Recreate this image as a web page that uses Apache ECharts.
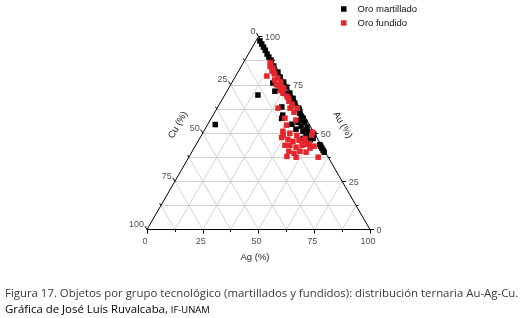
<!DOCTYPE html>
<html>
<head>
<meta charset="utf-8">
<script src="https://cdn.jsdelivr.net/npm/echarts@6/dist/echarts.min.js"></script>
<style>html,body{margin:0;padding:0;background:#fff;}#c{width:525px;height:318px;}</style>
</head>
<body>
<div id="c"></div>
<script>
// ---- data: [Au %, Ag %, Cu %] ----
const oroMartillado = [
  [97.7,1.8,0.5],[96.1,3.4,0.5],[94.5,5.0,0.5],[92.9,6.6,0.5],[90.9,8.4,0.7],[89.3,10.0,0.7],
  [87.8,11.7,0.5],[84.7,14.5,0.8],[81.6,17.9,0.5],[79.0,20.2,0.8],[76.4,23.1,0.5],[73.8,25.7,0.5],
  [70.7,28.7,0.6],[68.0,31.5,0.5],[65.5,33.5,1.0],[62.9,36.6,0.5],
  [75.9,18.5,5.6],[72.3,24.8,2.9],[71.7,21.5,6.8],[63.5,28.7,7.8],[59.3,31.2,9.5],
  [73.2,23.0,3.8],[70.5,26.6,2.9],[68.5,29.1,2.4],[65.4,32.9,1.7],[61.9,37.3,0.8],
  [69.7,14.9,15.4],[54.4,3.4,42.2],
  [60.3,38.4,1.3],[57.7,41.1,1.2],[55.6,39.9,4.5],[55.6,43.0,1.4],[53.6,42.3,4.1],[53.1,45.2,1.7],
  [50.9,44.5,4.6],[50.5,47.4,2.1],[52.0,40.8,7.2],[54.6,37.7,7.7],[47.9,49.6,2.5],[48.4,47.1,4.5],
  [49.4,50.1,0.5],[58.5,40.0,1.5],[56.5,40.5,3.0],[51.5,46.0,2.5],[46.5,50.0,3.5],
  [57.6,31.6,10.8],[47.2,50.9,1.9],[47.2,46.4,6.4],
  [44.0,55.5,0.5],[43.2,56.3,0.5],[42.2,57.3,0.5],[41.1,58.4,0.5],[40.1,59.4,0.5]
];
const oroFundido = [
  [86.5,12.0,1.5],[85.7,12.6,1.7],[84.5,13.0,2.5],[83.7,14.6,1.7],[82.1,15.0,2.9],[81.0,16.5,2.5],
  [80.6,17.0,2.4],[79.5,14.0,6.5],[78.5,19.4,2.1],[77.5,18.5,4.0],[76.4,21.8,1.8],[75.0,20.5,4.5],
  [74.3,22.0,3.7],[73.3,24.7,2.0],[72.0,24.0,4.0],[70.7,25.6,3.7],[69.1,28.2,2.7],[68.0,29.5,2.5],
  [66.5,30.4,3.1],[65.0,32.5,2.5],[64.0,33.0,3.0],[62.9,32.7,4.4],[62.9,27.3,9.8],[62.8,36.0,1.2],
  [60.8,35.5,3.7],[57.7,33.0,9.3],[56.7,38.4,4.9],[54.1,35.5,10.4],
  [50.9,35.5,13.6],[49.9,39.1,11.0],[48.8,42.8,8.4],[46.8,39.8,13.4],[45.7,42.6,11.7],[46.3,45.0,8.7],
  [43.7,42.2,14.1],[42.7,45.5,11.8],[43.7,47.7,8.6],[40.6,43.3,16.1],[39.5,46.2,14.3],[40.6,48.3,11.1],
  [40.1,51.3,8.6],[42.2,52.0,5.8],[43.2,53.3,3.5],[37.5,58.0,4.5],[43.7,40.0,16.3],[37.9,43.8,18.3],
  [37.5,48.1,14.4],[47.7,36.5,15.8],[46.3,47.6,6.1],[44.2,49.6,6.2],[47.2,47.2,5.6],[44.6,50.4,5.0],
  [48.9,36.6,14.5],[48.9,49.4,1.7],[50.4,49.1,0.5]
];
const gridSteps = [12.5, 25, 37.5, 50, 62.5, 75, 87.5];
const tickSteps = [0, 12.5, 25, 37.5, 50, 62.5, 75, 87.5, 100];
const tickLabels = [0, 25, 50, 75, 100];
const seriesNames = ['Oro martillado', 'Oro fundido'];
const axisTitles = ['Ag (%)', 'Au (%)', 'Cu (%)'];
const captionLine1 = 'Figura 17. Objetos por grupo tecnológico (martillados y fundidos): distribución ternaria Au-Ag-Cu.';
const captionLine2a = 'Gráfica de José Luis Ruvalcaba, ';
const captionLine2b = 'IF-UNAM';

// ---- ternary -> cartesian (x: 0..100, y: 0..86.6) ----
const S3 = Math.sqrt(3) / 2;
function tern(au, ag, cu) {
  const s = au + ag + cu;
  au = au / s * 100; ag = ag / s * 100;
  return [ag + au / 2, au * S3];
}

const gridLines = [];
gridSteps.forEach(v => {
  gridLines.push({ coords: [tern(v, 0, 100 - v), tern(v, 100 - v, 0)] });
  gridLines.push({ coords: [tern(0, v, 100 - v), tern(100 - v, v, 0)] });
  gridLines.push({ coords: [tern(100 - v, 0, v), tern(0, 100 - v, v)] });
});
const edges = [
  { coords: [tern(0, 0, 100), tern(0, 100, 0)] },
  { coords: [tern(0, 100, 0), tern(100, 0, 0)] },
  { coords: [tern(100, 0, 0), tern(0, 0, 100)] }
];
const PXU = 193.1 / (100 * S3); // px per data unit
const ticks = [];
tickSteps.forEach(v => {
  const L = (v % 25 === 0 ? 4 : 2.5) / PXU;
  const b = tern(0, v, 100 - v);
  ticks.push({ coords: [b, [b[0], b[1] - L]] });
  const r = tern(v, 100 - v, 0);
  ticks.push({ coords: [r, [r[0] + L, r[1]]] });
  const l = tern(100 - v, 0, v);
  ticks.push({ coords: [l, [l[0] - L / 2, l[1] + L * S3]] });
});

const labelFont = { fontFamily: 'Liberation Sans', fontSize: 9, color: '#222' };
function labelSeries(points, pos, dist, offset) {
  return {
    type: 'scatter', symbolSize: 0, silent: true, clip: false, z: 5,
    data: points,
    label: Object.assign({ show: true, position: pos, distance: dist, offset: offset,
      formatter: p => p.value[2] }, labelFont)
  };
}
const bottomLabels = tickLabels.map(v => tern(0, v, 100 - v).concat([v]));
const rightLabels = tickLabels.map(v => tern(v, 100 - v, 0).concat([v]));
const leftLabels = tickLabels.map(v => tern(100 - v, 0, v).concat([v]));

const chart = echarts.init(document.getElementById('c'), null, { renderer: 'canvas' });
chart.setOption({
  animation: false,
  backgroundColor: '#fff',
  grid: { left: 147, top: 36.5, width: 223, height: 193.1 },
  xAxis: { type: 'value', min: 0, max: 100, show: false },
  yAxis: { type: 'value', min: 0, max: 100 * S3, show: false },
  legend: {
    data: seriesNames, orient: 'vertical', left: 341, top: 3, padding: 0,
    icon: 'rect', itemWidth: 5.5, itemHeight: 5.5, itemGap: 2,
    textStyle: { fontFamily: 'Liberation Sans', fontSize: 9.5, color: '#111', lineHeight: 12, padding: [0, 0, 0, 6] }
  },
  graphic: [
    { type: 'text', x: 255, y: 257, style: { text: axisTitles[0], textAlign: 'center', textVerticalAlign: 'middle', verticalAlign: 'middle', font: '9.5px "Liberation Sans"', fill: '#222' } },
    { type: 'text', x: 342.5, y: 125, rotation: -Math.PI / 3, style: { text: axisTitles[1], textAlign: 'center', textVerticalAlign: 'middle', verticalAlign: 'middle', font: '9.5px "Liberation Sans"', fill: '#222' } },
    { type: 'text', x: 178, y: 125, rotation: Math.PI / 3, style: { text: axisTitles[2], textAlign: 'center', textVerticalAlign: 'middle', verticalAlign: 'middle', font: '9.5px "Liberation Sans"', fill: '#222' } },
    { type: 'text', x: 5, y: 294, style: { text: captionLine1, textVerticalAlign: 'middle', verticalAlign: 'middle', font: '11.4px "Open Sans"', fill: '#3a3a3a' } },
    { type: 'text', x: 5, y: 310, style: {
      text: '{a|' + captionLine2a + '}{b|' + captionLine2b + '}', textVerticalAlign: 'middle', verticalAlign: 'middle',
      rich: { a: { fontFamily: 'Open Sans', fontSize: 11.4, color: '#3a3a3a' }, b: { fontFamily: 'Open Sans', fontSize: 9.4, color: '#3a3a3a' } } } }
  ],
  series: [
    { type: 'lines', coordinateSystem: 'cartesian2d', silent: true, clip: false, z: 1,
      lineStyle: { color: '#c8c8c8', width: 0.8, opacity: 1 }, data: gridLines },
    { type: 'lines', coordinateSystem: 'cartesian2d', silent: true, clip: false, z: 2,
      lineStyle: { color: '#000', width: 1, opacity: 1 }, data: edges.concat(ticks) },
    { name: seriesNames[0], type: 'scatter', symbol: 'rect', symbolSize: 5.5, clip: false, z: 3,
      itemStyle: { color: '#000', opacity: 1 }, data: oroMartillado.map(d => tern(d[0], d[1], d[2])) },
    { name: seriesNames[1], type: 'scatter', symbol: 'rect', symbolSize: 5.5, clip: false, z: 4,
      itemStyle: { color: '#e3262b', opacity: 1 }, data: oroFundido.map(d => tern(d[0], d[1], d[2])) },
    labelSeries(bottomLabels, 'bottom', 7, [-2, 0]),
    labelSeries(rightLabels, 'right', 6.5, [0, 1]),
    labelSeries(leftLabels, 'left', 3, [0, -5])
  ]
});
</script>
</body>
</html>
